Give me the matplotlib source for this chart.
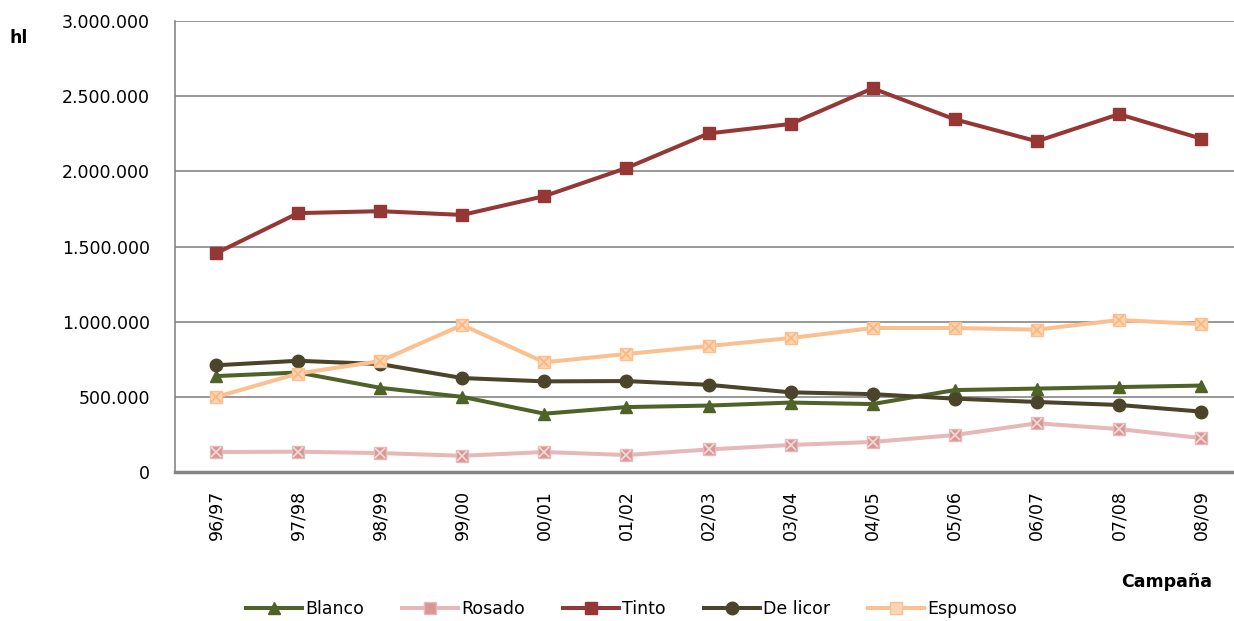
import matplotlib
matplotlib.use("Agg")
import matplotlib.pyplot as plt
from matplotlib.ticker import FuncFormatter

campanas = ["96/97", "97/98", "98/99", "99/00", "00/01", "01/02", "02/03",
            "03/04", "04/05", "05/06", "06/07", "07/08", "08/09"]

blanco = [638000, 662000, 560000, 500000, 388000, 432000, 442000,
          462000, 452000, 545000, 555000, 565000, 575000]
rosado = [133000, 135000, 126000, 108000, 133000, 113000, 150000,
          180000, 200000, 246000, 324000, 286000, 226000]
tinto = [1455000, 1722000, 1735000, 1710000, 1835000, 2022000, 2252000,
         2315000, 2552000, 2346000, 2200000, 2380000, 2218000]
de_licor = [710000, 740000, 718000, 625000, 603000, 605000, 580000,
            530000, 518000, 488000, 466000, 446000, 402000]
espumoso = [499000, 655000, 738000, 978000, 730000, 785000, 838000,
            891000, 958000, 958000, 947000, 1011000, 984000]

fig = plt.figure(figsize=(12.34, 6.21), dpi=100)
ax = fig.add_axes([0.1418, 0.2399, 0.8647, 0.7263])

x = range(len(campanas))
lw = 2.9
ax.plot(x, blanco, color="#4F6228", lw=lw, marker="^", ms=9, label="Blanco", zorder=3)
ax.plot(x, rosado, color="#E6B9B8", lw=lw, marker="s", ms=9,
        mfc="#D99694", mec="#E6B9B8", label="Rosado", zorder=3)
ax.plot(x, rosado, ls="none", marker="x", ms=7, mew=1.2, color="#F2DCDB", zorder=4)
ax.plot(x, tinto, color="#953735", lw=lw, marker="s", ms=8, label="Tinto", zorder=3)
ax.plot(x, de_licor, color="#4A452A", lw=lw, marker="o", ms=9, label="De licor", zorder=3)
ax.plot(x, espumoso, color="#FAC090", lw=lw, marker="s", ms=9,
        mfc="#FCD5B4", mec="#FAC090", label="Espumoso", zorder=3)
ax.plot(x, espumoso, ls="none", marker="x", ms=7, mew=1.2, color="#F9B77C", zorder=4)

ax.set_xlim(-0.5, len(campanas) - 0.5)
ax.set_ylim(0, 3000000)
ax.set_yticks(range(0, 3000001, 500000))
ax.yaxis.set_major_formatter(FuncFormatter(lambda v, p: f"{int(v):,}".replace(",", ".")))
ax.set_xticks(list(x))
ax.set_xticklabels(campanas, rotation=90)
ax.tick_params(axis="both", length=0, labelsize=12.5)
ax.tick_params(axis="x", pad=13)
ax.tick_params(axis="y", pad=18)
ax.grid(axis="y", color="#868686", lw=1.2)
ax.set_axisbelow(True)
for s in ["top", "right"]:
    ax.spines[s].set_visible(False)
ax.spines["left"].set_color("#868686")
ax.spines["left"].set_linewidth(1.2)
ax.spines["bottom"].set_color("#868686")
ax.spines["bottom"].set_linewidth(2.5)

fig.text(0.008, 0.93, "hl", fontsize=12.5, fontweight="bold")
fig.text(0.982, 0.055, "Campaña", fontsize=12.5, fontweight="bold", ha="right")

handles, labels = ax.get_legend_handles_labels()
fig.legend(handles, labels, loc="center", bbox_to_anchor=(0.512, 0.02), ncol=5,
           frameon=False, fontsize=12.5, handlelength=3.2, columnspacing=2.2,
           handletextpad=0.2)

fig.savefig("out.png", dpi=100)
